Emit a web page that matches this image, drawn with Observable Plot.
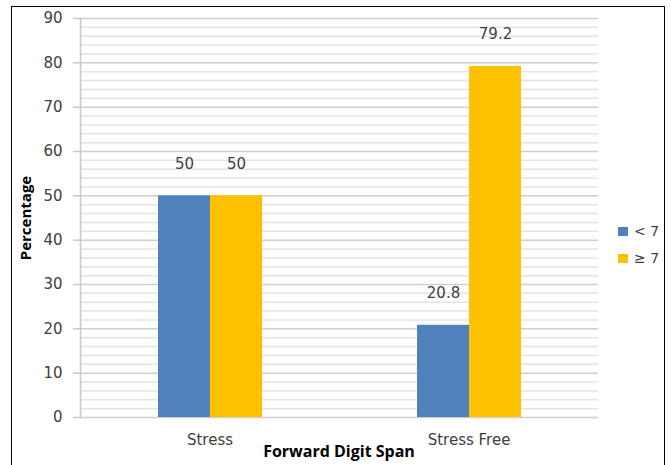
<!DOCTYPE html>
<html>
<head>
<meta charset="utf-8">
<script src="https://cdn.jsdelivr.net/npm/d3@7"></script>
<script src="https://cdn.jsdelivr.net/npm/@observablehq/plot@0.6"></script>
<style>
  html, body { margin: 0; padding: 0; background: #fff; }
  #wrap { position: relative; width: 671px; height: 465px; overflow: hidden; }
  #wrap svg { position: absolute; left: 0; top: 0; }
  .border { position: absolute; left: 11px; top: 6px; width: 654px; height: 480px; border: 1.5px solid #000; box-sizing: border-box; }
  .ytitle { position: absolute; left: 25px; top: 218px; transform: translate(-50%, -50%) rotate(-90deg); font: bold 15px "Open Sans", sans-serif; color: #000; white-space: nowrap; }
  .xtitle { position: absolute; left: 339px; top: 451px; transform: translate(-50%, -50%); font: bold 16px "Open Sans", sans-serif; color: #000; white-space: nowrap; }
  .legend { position: absolute; left: 618px; top: 222px; font: 14px "DejaVu Sans", sans-serif; color: #404040; }
  .legend div { display: flex; align-items: center; height: 18px; margin-bottom: 9px; }
  .legend span.sw { display: inline-block; width: 10px; height: 9px; margin-right: 6px; }
</style>
</head>
<body>
<div id="wrap"></div>
<script>
const categories = ["Stress", "Stress Free"];
const series = ["< 7", "\u2265 7"];
const lessThan7 = [50, 20.8];
const atLeast7 = [50, 79.2];
const colors = ["#4F81BD", "#FFC000"];
const majorTicks = [0, 10, 20, 30, 40, 50, 60, 70, 80, 90];
const minorTicks = [2, 4, 6, 8, 12, 14, 16, 18, 22, 24, 26, 28, 32, 34, 36, 38, 42, 44, 46, 48, 52, 54, 56, 58, 62, 64, 66, 68, 72, 74, 76, 78, 82, 84, 86, 88];

const data = [];
categories.forEach((c, i) => {
  data.push({category: c, series: series[0], value: lessThan7[i]});
  data.push({category: c, series: series[1], value: atLeast7[i]});
});

const FONT = "DejaVu Sans, sans-serif";

const chart = Plot.plot({
  width: 671,
  height: 465,
  marginLeft: 80,
  marginRight: 73,
  marginTop: 18,
  marginBottom: 48,
  style: {fontFamily: FONT, fontSize: "15px", color: "#404040", background: "transparent"},
  fx: {domain: categories, padding: 0, axis: null, label: null},
  x: {domain: series, paddingInner: 0, paddingOuter: 1.49, axis: null},
  y: {domain: [0, 90], axis: null},
  color: {domain: series, range: colors},
  marks: [
    Plot.ruleY(minorTicks, {stroke: "#e4e4e4", strokeWidth: 1.5}),
    Plot.ruleY(majorTicks, {stroke: "#cfcfcf", strokeWidth: 1.5}),
    Plot.frame({anchor: "left", facetAnchor: "left", stroke: "#c8c8c8", strokeWidth: 1.5}),
    Plot.axisY(majorTicks, {anchor: "left", tickSize: 7, tickPadding: 11, stroke: "#c8c8c8", strokeWidth: 1.5, fill: "#404040", fontSize: 15, fontFamily: FONT, label: null}),
    Plot.axisFx({anchor: "bottom", tickSize: 0, tickPadding: 17, fill: "#404040", fontSize: 15, fontFamily: FONT, label: null}),
    Plot.barY(data, {fx: "category", x: "series", y: "value", fill: "series"}),
    Plot.text(data, {fx: "category", x: "series", y: "value", text: d => String(d.value), dy: -32, fill: "#404040", fontSize: 15, fontFamily: FONT})
  ]
});

const wrap = document.getElementById("wrap");
wrap.appendChild(chart);

const border = document.createElement("div");
border.className = "border";
wrap.appendChild(border);

const yt = document.createElement("div");
yt.className = "ytitle";
yt.textContent = "Percentage";
wrap.appendChild(yt);

const xt = document.createElement("div");
xt.className = "xtitle";
xt.textContent = "Forward Digit Span";
wrap.appendChild(xt);

const lg = document.createElement("div");
lg.className = "legend";
series.forEach((s, i) => {
  const row = document.createElement("div");
  const sw = document.createElement("span");
  sw.className = "sw";
  sw.style.background = colors[i];
  row.appendChild(sw);
  row.appendChild(document.createTextNode(s));
  lg.appendChild(row);
});
wrap.appendChild(lg);
</script>
</body>
</html>
